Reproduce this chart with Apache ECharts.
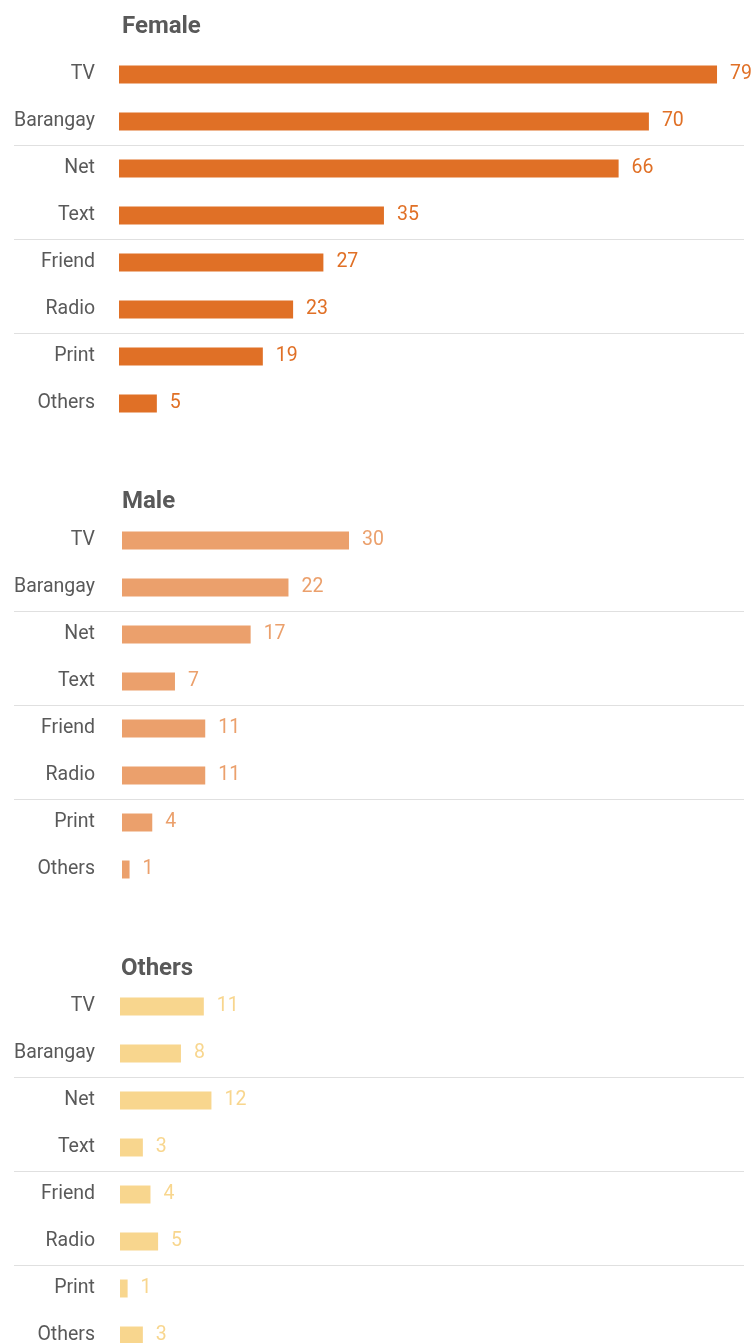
<!DOCTYPE html>
<html><head><meta charset="utf-8">
<script src="https://cdn.jsdelivr.net/npm/echarts@6/dist/echarts.min.js"></script>
<style>html,body{margin:0;padding:0;background:#fff}#c{width:753px;height:1343px}</style>
</head><body><div id="c"></div>
<script>
const categories = ['TV','Barangay','Net','Text','Friend','Radio','Print','Others'];
const panelTitles = ['Female','Male','Others'];
const femaleValues = [79,70,66,35,27,23,19,5];
const maleValues = [30,22,17,7,11,11,4,1];
const othersValues = [11,8,12,3,4,5,1,3];
const panelValues = [femaleValues, maleValues, othersValues];
const colors = ['#E07026','#EBA06C','#F8D68E'];

// layout
const gridTops = [51, 517, 983];
const zeroX = [119, 122, 120];
const scales = [7.57, 7.567, 7.62];
const lineLeft = 14, gridRight = 9;
const rowH = 47;
const titleTops = [10, 485, 952];
const titleLefts = [117, 117, 116];
const font = 'Roboto, "Noto Sans", sans-serif';

const chart = echarts.init(document.getElementById('c'), null, {renderer:'canvas'});
const n = panelTitles.length;
const grids = [], xAxes = [], yAxes = [], series = [];
panelTitles.forEach((t,i)=>{
  const h = rowH*categories.length;
  grids.push({left:zeroX[i],right:gridRight,top:gridTops[i],height:h,containLabel:false,outerBoundsMode:'none'});
  const w = 753 - gridRight - zeroX[i];
  xAxes.push({type:'value',gridIndex:i,min:0,max:w/scales[i],
    axisLine:{show:false},axisTick:{show:false},axisLabel:{show:false},splitLine:{show:false}});
  yAxes.push({type:'category',gridIndex:i,data:categories,inverse:true,
    axisLine:{show:false},axisTick:{show:false},
    axisLabel:{margin:zeroX[i]-95,fontFamily:font,fontSize:19.5,color:'#595959'},
    splitLine:{show:false}});
  series.push({type:'bar',xAxisIndex:i,yAxisIndex:i,data:panelValues[i],barWidth:18,
    itemStyle:{color:colors[i]},
    label:{show:true,position:'right',distance:13,color:colors[i],fontFamily:font,fontSize:19.5}});
});
panelTitles.forEach((t,i)=>{
  const h = rowH*categories.length;
  grids.push({left:lineLeft,right:gridRight,top:gridTops[i],height:h,containLabel:false,outerBoundsMode:'none'});
  xAxes.push({type:'value',gridIndex:n+i,min:0,max:1,show:false});
  yAxes.push({type:'category',gridIndex:n+i,data:categories,inverse:true,
    axisLine:{show:false},axisTick:{show:false},axisLabel:{show:false},
    splitLine:{show:true,showMaxLine:false,
      interval:(idx)=>idx===2||idx===4||idx===6,lineStyle:{color:'#e0e0e0',width:1}}});
});
const option = {
  animation:false,
  backgroundColor:'#fff',
  title: panelTitles.map((t,i)=>({text:t,left:titleLefts[i],top:titleTops[i],
    textStyle:{fontFamily:font,fontSize:24,fontWeight:'bold',color:'#595959'}})),
  grid: grids, xAxis: xAxes, yAxis: yAxes, series: series
};
chart.setOption(option);
</script></body></html>
